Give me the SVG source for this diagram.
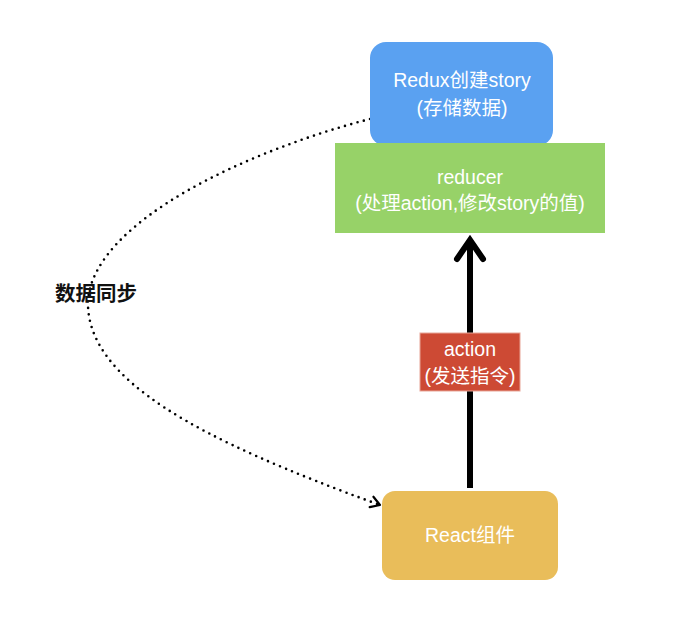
<svg xmlns="http://www.w3.org/2000/svg" width="700" height="625" viewBox="0 0 700 625">
<style>
.t{font-family:"Liberation Sans","Noto Sans CJK SC",sans-serif;font-size:19.5px;fill:#ffffff;text-anchor:middle}
.lbl{font-family:"Liberation Sans","Noto Sans CJK SC",sans-serif;font-size:20.5px;font-weight:bold;fill:#111}
</style>
<defs>
<marker id="dotHead" markerWidth="14" markerHeight="14" refX="11" refY="7" orient="auto" markerUnits="userSpaceOnUse">
<path d="M2,1.5 L11,7 L2,12.5" fill="none" stroke="#000" stroke-width="2.2" stroke-linecap="round" stroke-linejoin="round"/>
</marker>
</defs>
<rect width="700" height="625" fill="#ffffff"/>
<g id="connectors">
<path d="M370,119 C250,150 95,220 88,300 C85,380 200,440 380,505" fill="none" stroke="#000" stroke-width="2.6" stroke-dasharray="0 6.5" stroke-linecap="round" marker-end="url(#dotHead)"/>
<line x1="470" y1="488" x2="470" y2="241" stroke="#000" stroke-width="6"/>
<path d="M457,259 L470,240 L483,259" fill="none" stroke="#000" stroke-width="6" stroke-linecap="round" stroke-linejoin="miter"/>
</g>
<g id="store">
<rect x="370" y="42" width="183" height="104" rx="16" fill="#5AA1F1"/>
<text class="t" x="462" y="87">Redux创建story</text>
<text class="t" x="462" y="115">(存储数据)</text>
</g>
<g id="reducer">
<rect x="335" y="143" width="270" height="90" fill="#97D268"/>
<text class="t" x="470" y="184">reducer</text>
<text class="t" x="470" y="210">(处理action,修改story的值)</text>
</g>
<g id="action">
<rect x="420" y="333" width="100" height="58" fill="#CD4A34" stroke="#E8A597" stroke-width="1"/>
<text class="t" x="470" y="356">action</text>
<text class="t" x="470" y="383">(发送指令)</text>
</g>
<g id="react">
<rect x="382" y="491" width="176" height="89" rx="13" fill="#E9BD5A"/>
<text class="t" x="470" y="542">React组件</text>
</g>
<g id="sync-label">
<text class="lbl" x="55" y="301">数据同步</text>
</g>
</svg>
